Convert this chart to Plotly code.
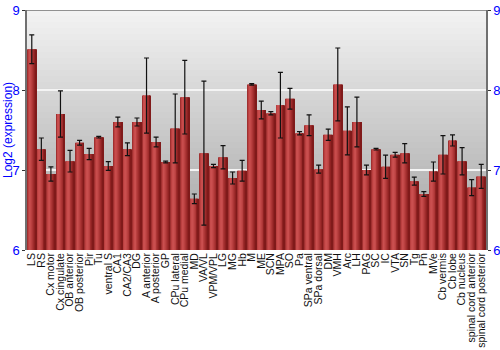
import plotly.graph_objects as go

regions = ["LS", "RS", "Cx motor", "Cx cingulate", "OB anterior", "OB posterior", "Pir", "Tu",
           "ventral S", "CA1", "CA2/CA3", "DG", "A anterior", "A posterior", "GP", "CPu lateral",
           "CPu medial", "MD", "VA/VL", "VPM/VPL", "LG", "MG", "Hb", "M", "ME", "SCN", "MPA", "SO",
           "Pa", "SPa ventral", "SPa dorsal", "DM", "VMH", "Arc", "LH", "PAG", "SC", "IC", "VTA",
           "SN", "Tg", "Pn", "MVe", "Cb vermis", "Cb lobe", "Cb nucleus",
           "spinal cord anterior", "spinal cord posterior"]

expression = [8.51, 7.26, 6.95, 7.70, 7.11, 7.34, 7.20, 7.41,
              7.05, 7.60, 7.26, 7.60, 7.93, 7.35, 7.10, 7.52,
              7.91, 6.64, 7.21, 7.05, 7.16, 6.90, 6.99, 8.07, 7.75, 7.71, 7.81, 7.89,
              7.46, 7.56, 7.01, 7.44, 8.07, 7.49, 7.60, 7.00, 7.26, 7.04, 7.19,
              7.21, 6.86, 6.70, 6.98, 7.19, 7.37, 7.11,
              6.78, 6.92]

error = [0.18, 0.14, 0.09, 0.29, 0.135, 0.03, 0.07, 0.01,
         0.055, 0.06, 0.08, 0.05, 0.47, 0.06, 0.01, 0.43,
         0.46, 0.06, 0.90, 0.02, 0.145, 0.075, 0.13, 0.01, 0.11, 0.02, 0.41, 0.13,
         0.02, 0.13, 0.05, 0.07, 0.455, 0.30, 0.31, 0.06, 0.01, 0.145, 0.03,
         0.12, 0.05, 0.03, 0.12, 0.24, 0.07, 0.17,
         0.10, 0.15]

y_ticks = [6, 7, 8, 9]
y_title = "Log2 (expression)"

fig = go.Figure()

# cylinder-like shading: strips across each bar
strip_colors = ["#a03030", "#bb4040", "#c84c4c", "#ca4f4f", "#c44949", "#ba4040",
                "#ad3636", "#9f2c2c", "#902222", "#801a1a"]
n = len(strip_colors)
full = 0.9
sw = full / n
for k, c in enumerate(strip_colors):
    fig.add_trace(go.Bar(
        x=regions, y=expression, width=sw * 1.02, offset=-full / 2 + k * sw,
        marker=dict(color=c, line=dict(width=0)), hoverinfo="skip", showlegend=False))

# error bars
fig.add_trace(go.Bar(
    x=regions, y=expression, width=full, offset=-full / 2,
    marker=dict(color="rgba(0,0,0,0)", line=dict(width=0)),
    error_y=dict(type="data", array=error, visible=True, color="#111111",
                 thickness=1.2, width=2.5),
    showlegend=False))

# invisible trace for right axis
fig.add_trace(go.Scatter(x=[regions[0]], y=[6], yaxis="y2", mode="markers",
                         marker=dict(opacity=0), showlegend=False, hoverinfo="skip"))

# background gradient stripes
shapes = []
ns = 40
top = (0xf2, 0xf2, 0xf2)
bot = (0xa2, 0xa2, 0xa2)
for i in range(ns):
    t = i / (ns - 1)
    col = tuple(int(round(top[j] + (bot[j] - top[j]) * t)) for j in range(3))
    y1 = 9 - 3 * i / ns
    y0 = 9 - 3 * (i + 1) / ns
    shapes.append(dict(type="rect", xref="paper", yref="y", x0=0, x1=1, y0=y0, y1=y1,
                       fillcolor="rgb(%d,%d,%d)" % col, line=dict(width=0), layer="below"))
shapes.append(dict(type="line", xref="paper", yref="y", x0=0, x1=1, y0=9, y1=9,
                   line=dict(color="#707070", width=1.5)))

fig.update_layout(
    width=500, height=350,
    margin=dict(l=27, r=14, t=10, b=100),
    barmode="overlay",
    bargap=0.1,
    paper_bgcolor="white",
    plot_bgcolor="rgba(0,0,0,0)",
    shapes=shapes,
    font=dict(family="Liberation Sans", color="#222222"),
    annotations=[dict(text=y_title, xref="paper", yref="paper", x=0, y=0.5,
                      xshift=-19, textangle=-90, showarrow=False,
                      xanchor="center", yanchor="middle",
                      font=dict(size=12, color="#0000ff"))],
    xaxis=dict(tickangle=-90, tickfont=dict(size=10.5, color="#111111"),
               tickmode="array", tickvals=regions, ticktext=regions,
               automargin=False,
               showgrid=False, showline=False, ticks="", range=[-0.5, len(regions) - 0.5]),
    yaxis=dict(range=[6, 9], tickvals=y_ticks, tickfont=dict(size=13, color="#0000ff"),
               automargin=False, ticklabeloverflow="allow",
               showgrid=True, gridcolor="#f4f4f4", gridwidth=1.5, zeroline=False,
               showline=True, linecolor="#707070", linewidth=1.5,
               ticks="outside", ticklen=3, tickcolor="#333333"),
    yaxis2=dict(range=[6, 9], tickvals=y_ticks, overlaying="y", side="right",
                automargin=False, ticklabeloverflow="allow",
                tickfont=dict(size=13, color="#0000ff"), showgrid=False, zeroline=False,
                showline=True, linecolor="#707070", linewidth=1.5,
                ticks="outside", ticklen=3, tickcolor="#333333"),
)

fig.write_html("out.html", config={"displayModeBar": False},
               post_script="document.body.style.margin='0';")
